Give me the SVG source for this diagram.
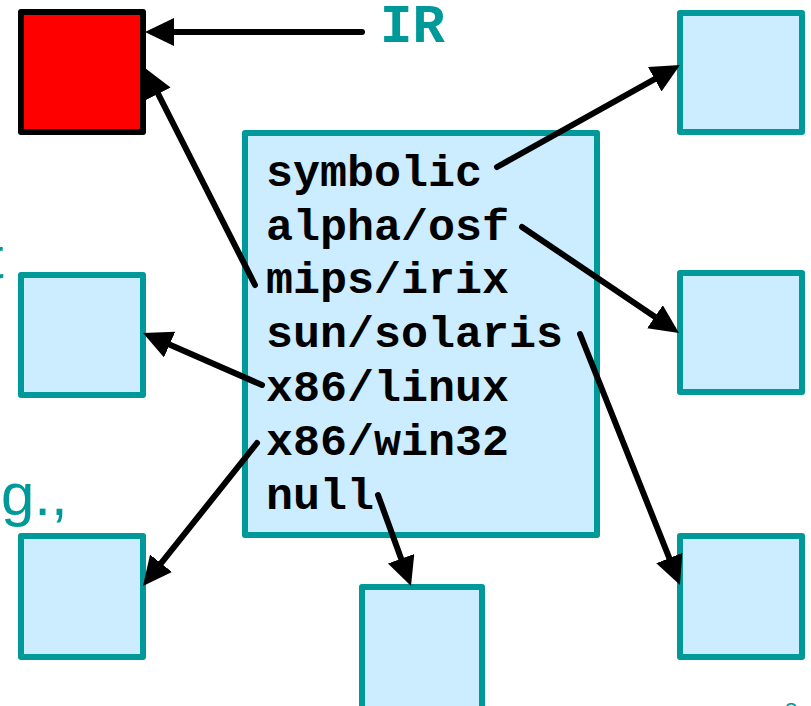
<svg xmlns="http://www.w3.org/2000/svg" width="811" height="706" viewBox="0 0 811 706">
  <style>
    .box { fill: #CCECFF; stroke: #009999; stroke-width: 6; stroke-linejoin: round; }
    .red { fill: #FF0000; stroke: #000000; stroke-width: 6; stroke-linejoin: round; }
    .mono { font-family: "Liberation Mono", "Courier New", monospace; font-weight: bold; }
    .code { font-size: 45px; fill: #000000; }
    .teal { fill: #009999; }
    .sans { font-family: "Liberation Sans", Arial, sans-serif; }
    .conn line { stroke: #000000; stroke-width: 6; stroke-linecap: round; marker-end: url(#arrow); }
  </style>
  <defs>
    <marker id="arrow" markerUnits="userSpaceOnUse" markerWidth="30" markerHeight="30" refX="19" refY="14" orient="auto">
      <path d="M0,0 L29,14 L0,28 z" fill="#000000"/>
    </marker>
  </defs>

  <rect width="811" height="706" fill="#FFFFFF"/>

  <!-- partial side texts -->
  <text class="sans teal" x="-13" y="278" font-size="60">t</text>
  <text class="sans teal" x="1" y="515" font-size="60">g.,</text>
  <text class="sans teal" x="785" y="718" font-size="22">8</text>

  <g id="ir-label">
    <text class="mono teal" x="380" y="42" font-size="54">IR</text>
  </g>

  <g id="ir-node">
    <rect class="red" x="21" y="12" width="122" height="120"/>
  </g>

  <g id="targets">
    <g id="node-top-right"><rect class="box" x="680" y="13" width="122" height="119"/></g>
    <g id="node-mid-right"><rect class="box" x="680" y="273" width="122" height="119"/></g>
    <g id="node-bottom-right"><rect class="box" x="680" y="536" width="122" height="121"/></g>
    <g id="node-mid-left"><rect class="box" x="21" y="275" width="122" height="120"/></g>
    <g id="node-bottom-left"><rect class="box" x="21" y="536" width="122" height="121"/></g>
    <g id="node-bottom-center"><rect class="box" x="362" y="587" width="120" height="130"/></g>
  </g>

  <g id="backend-list">
    <rect class="box" x="245" y="133" width="352" height="402"/>
    <text class="mono code" x="266" y="186">symbolic</text>
    <text class="mono code" x="266" y="240">alpha/osf</text>
    <text class="mono code" x="266" y="293">mips/irix</text>
    <text class="mono code" x="266" y="347">sun/solaris</text>
    <text class="mono code" x="266" y="401">x86/linux</text>
    <text class="mono code" x="266" y="455">x86/win32</text>
    <text class="mono code" x="266" y="509">null</text>
  </g>

  <g id="connectors" class="conn">
    <line x1="362" y1="32" x2="155" y2="32"/>
    <line x1="255" y1="285" x2="149.5" y2="76.9"/>
    <line x1="497" y1="167" x2="671.3" y2="69.9"/>
    <line x1="522" y1="227" x2="670.7" y2="327.4"/>
    <line x1="580" y1="334" x2="676.3" y2="575.7"/>
    <line x1="262" y1="385" x2="152.2" y2="337"/>
    <line x1="257" y1="443" x2="149.2" y2="578.2"/>
    <line x1="378" y1="495" x2="407.6" y2="576.6"/>
  </g>
</svg>
